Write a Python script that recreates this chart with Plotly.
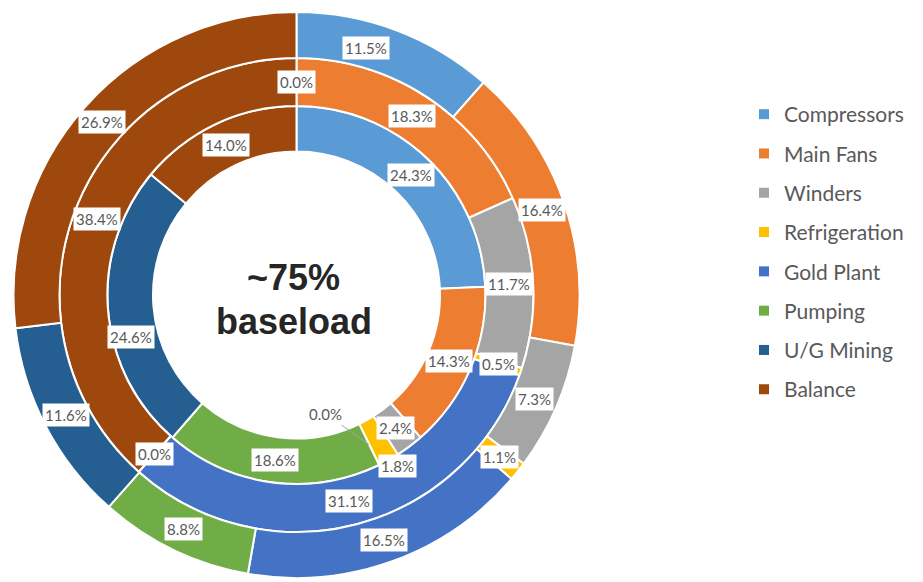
import numpy as np
import plotly.graph_objects as go

categories = ["Compressors", "Main Fans", "Winders", "Refrigeration",
              "Gold Plant", "Pumping", "U/G Mining", "Balance"]
inner_values = [24.3, 14.3, 2.4, 1.8, 0.0, 18.6, 24.6, 14.0]
middle_values = [0.0, 18.3, 11.7, 0.5, 31.1, 0.0, 0.0, 38.4]
outer_values = [11.5, 16.4, 7.3, 1.1, 16.5, 8.8, 11.6, 26.9]
center_lines = ["~75%", "baseload"]

colors = ["#5B9BD5", "#ED7D31", "#A5A5A5", "#FFC000",
          "#4472C4", "#70AD47", "#255E91", "#9E480E"]

W, H = 923, 582
CX, CY = 296.5, 295.0
R_OUT, R_MID, R_IN, R_HOLE = 283.0, 237.0, 189.0, 143.5

# label nudges in px (dx, dy), keyed by (ring, category index)
nudges = {("outer", 0): (-22, -4), ("inner", 3): (20, 26), ("inner", 6): (0, 28)}
leaders = {("inner", 4): (-44, -31)}

rings = [
    ("inner", inner_values, R_IN, R_HOLE),
    ("middle", middle_values, R_MID, R_IN),
    ("outer", outer_values, R_OUT, R_MID),
]

fig = go.Figure()
annotations = []
for name, vals, r_o, r_i in rings:
    fig.add_trace(go.Pie(
        values=vals, labels=categories, sort=False, direction="clockwise",
        rotation=0, hole=r_i / r_o, textinfo="none", showlegend=False,
        marker=dict(colors=colors, line=dict(color="white", width=2)),
        domain=dict(x=[(CX - r_o) / W, (CX + r_o) / W],
                    y=[1 - (CY + r_o) / H, 1 - (CY - r_o) / H]),
        hovertemplate="%{label}: %{value:.1f}%<extra></extra>",
    ))
    vals_arr = np.array(vals, dtype=float)
    tot = vals_arr.sum()
    cum = np.concatenate([[0], np.cumsum(vals_arr)[:-1]])
    mids = (cum + vals_arr / 2) / tot * 2 * np.pi
    rm = (r_o + r_i) / 2
    for i, (v, th) in enumerate(zip(vals, mids)):
        if v == 0 and i > 0 and vals[i - 1] == 0:
            continue
        px = CX + rm * np.sin(th)
        py = CY - rm * np.cos(th)
        dx, dy = nudges.get((name, i), (0, 0))
        px += dx
        py += dy
        ann = dict(x=px / W, y=1 - py / H, xref="paper", yref="paper",
                   xanchor="center", yanchor="middle",
                   text=f"{v:.1f}%", showarrow=False,
                   font=dict(family="Lato", size=15, color="#595959"),
                   bgcolor="white", borderpad=2)
        if (name, i) in leaders:
            ax, ay = leaders[(name, i)]
            ann.update(showarrow=True, ax=ax, ay=ay, arrowhead=0,
                       arrowwidth=1, arrowcolor="#A6A6A6", bgcolor="rgba(0,0,0,0)")
        annotations.append(ann)

# center text
for k, line in enumerate(center_lines):
    annotations.append(dict(
        x=(CX - 3) / W, y=1 - (277 + 44 * k) / H, xref="paper", yref="paper",
        xanchor="center", yanchor="middle",
        text=f"<b>{line}</b>", showarrow=False,
        font=dict(family="Liberation Sans, Arial", size=36, color="#262626")))

# legend entries
for c, col in zip(categories, colors):
    fig.add_trace(go.Scatter(
        x=[None], y=[None], mode="markers", name=c, legendgroup=c,
        marker=dict(symbol="square", size=10, color=col),
    ))

fig.update_layout(
    width=W, height=H, margin=dict(l=0, r=0, t=0, b=0),
    paper_bgcolor="white", plot_bgcolor="white",
    xaxis=dict(visible=False), yaxis=dict(visible=False),
    annotations=annotations,
    showlegend=True,
    legend=dict(x=744 / W, xanchor="left", y=1 - 94 / H, yanchor="top",
                traceorder="grouped", tracegroupgap=9,
                font=dict(family="Lato", size=21, color="#595959"),
                bgcolor="rgba(0,0,0,0)"),
)

fig.write_html("out.html")
